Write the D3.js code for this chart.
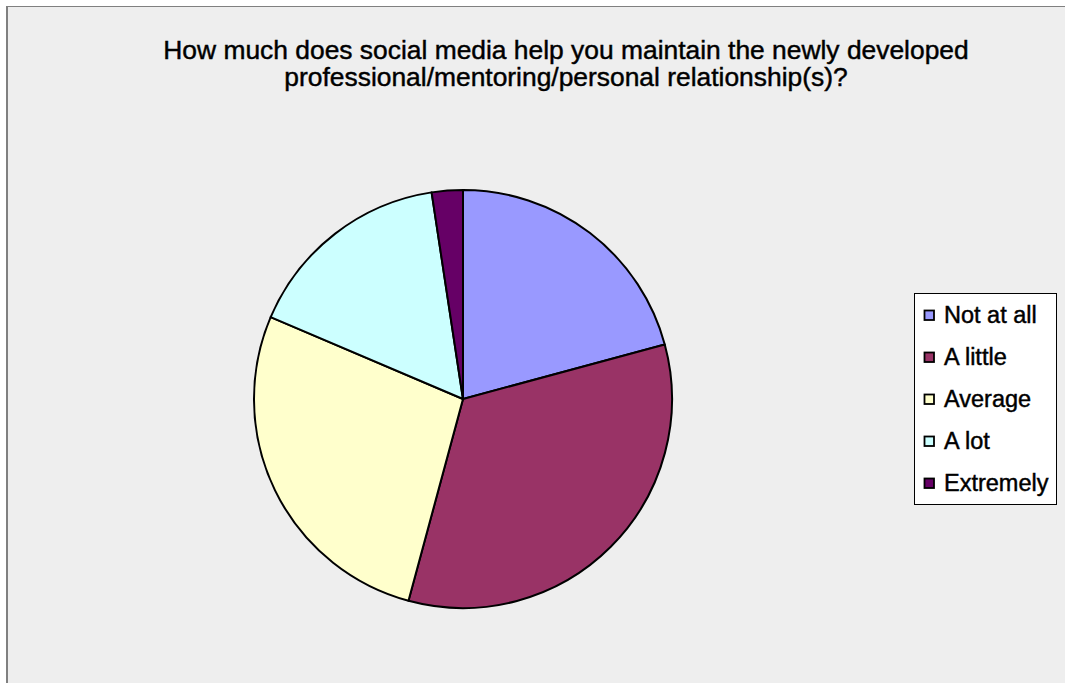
<!DOCTYPE html>
<html>
<head>
<meta charset="utf-8">
<script src="https://cdn.jsdelivr.net/npm/d3@7"></script>
<style>
  html, body { margin: 0; padding: 0; background: #ffffff; }
  svg { display: block; }
  text { font-family: "Liberation Sans", Arial, sans-serif; fill: #000; stroke: #000; stroke-width: 0.45px; }
</style>
</head>
<body>
<svg id="chart" width="1065" height="683"></svg>
<script>
// Survey answers and their shares (percent of respondents)
const categories = ["Not at all", "A little", "Average", "A lot", "Extremely"];
const shares = [20.8, 33.4, 27.2, 16.2, 2.4];
const colors = ["#9999FF", "#993366", "#FFFFCC", "#CCFFFF", "#660066"];
const titleLines = [
  "How much does social media help you maintain the newly developed",
  "professional/mentoring/personal relationship(s)?"
];

const W = 1065, H = 683;
const svg = d3.select("#chart");

// Chart area background with left/top frame
svg.append("rect").attr("x", 7).attr("y", 6).attr("width", W - 7).attr("height", H - 6)
  .attr("fill", "#EEEEEE");
svg.append("line").attr("x1", 7).attr("y1", 6.5).attr("x2", W).attr("y2", 6.5)
  .attr("stroke", "#808080").attr("stroke-width", 1);
svg.append("line").attr("x1", 7).attr("y1", 6).attr("x2", 7).attr("y2", H)
  .attr("stroke", "#808080").attr("stroke-width", 2);

// Title
svg.append("g").selectAll("text").data(titleLines).join("text")
  .attr("x", 566)
  .attr("y", (d, i) => 59 + i * 27)
  .attr("text-anchor", "middle")
  .attr("font-size", 26.4)
  .text(d => d);

// Pie
const data = categories.map((c, i) => ({ label: c, value: shares[i], color: colors[i] }));
const pie = d3.pie().value(d => d.value).sort(null);
const arc = d3.arc().innerRadius(0).outerRadius(209);
const color = d3.scaleOrdinal().domain(categories).range(colors);

svg.append("g").attr("transform", "translate(463,399)")
  .selectAll("path").data(pie(data)).join("path")
  .attr("d", arc)
  .attr("fill", d => color(d.data.label))
  .attr("stroke", "#000")
  .attr("stroke-width", 2)
  .attr("stroke-linejoin", "round");

// Legend
const legend = svg.append("g");
legend.append("rect").attr("x", 914.5).attr("y", 293.5).attr("width", 142).attr("height", 211)
  .attr("fill", "#ffffff").attr("stroke", "#000").attr("stroke-width", 1);

const rowY = d3.scalePoint().domain(categories).range([315, 483]);
const items = legend.selectAll("g.item").data(data).join("g").attr("class", "item")
  .attr("transform", d => `translate(0,${rowY(d.label)})`);
items.append("rect").attr("x", 924.5).attr("y", -4.5).attr("width", 9.5).attr("height", 9.5)
  .attr("fill", d => color(d.label)).attr("stroke", "#000").attr("stroke-width", 1.8);
items.append("text").attr("x", 944).attr("y", 8)
  .attr("font-size", 23.5)
  .text(d => d.label);
</script>
</body>
</html>
